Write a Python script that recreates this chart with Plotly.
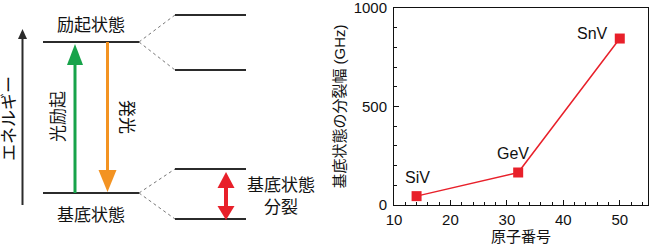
import plotly.graph_objects as go

# ---- data (right panel) ----
centers = ["SiV", "GeV", "SnV"]
atomic_number = [14, 32, 50]
splitting_ghz = [45, 165, 845]

x_ticks = [10, 20, 30, 40, 50]
y_ticks = [0, 500, 1000]

# ---- left diagram labels ----
label_excited = "励起状態"
label_ground = "基底状態"
label_energy = "エネルギー"
label_absorb = "光励起"
label_emit = "発光"
label_split = "基底状態<br>分裂"

FONT = "Liberation Sans, Arial, Noto Sans CJK JP, sans-serif"
DARK = "#2b2b2b"
RED = "#e8202a"
GREEN = "#17a34a"
ORANGE = "#f39322"

fig = go.Figure()

fig.add_trace(go.Scatter(
    x=atomic_number, y=splitting_ghz, mode="lines+markers",
    line=dict(color=RED, width=1.5),
    marker=dict(symbol="square", size=10, color=RED),
    xaxis="x", yaxis="y", showlegend=False, hoverinfo="skip"))

# dummy trace for the left diagram axes
fig.add_trace(go.Scatter(x=[0], y=[0], mode="markers", marker=dict(opacity=0),
                         xaxis="x2", yaxis="y2", showlegend=False, hoverinfo="skip"))

ann_offsets = [(1, 19), (-5, 19), (-27, 5)]
annotations = []
for name, xv, yv, (dx, dy) in zip(centers, atomic_number, splitting_ghz, ann_offsets):
    annotations.append(dict(x=xv, y=yv, xref="x", yref="y", text=name, showarrow=False,
                            xshift=dx, yshift=dy, font=dict(size=16, color="#111", family=FONT)))

# ---- left diagram (coordinates in a 0..325 x 0..245 drawing frame) ----
lvl_main_x = [43, 139]
lvl_split_x = [175, 246]
y_exc, y_gnd = 42, 193
y_exc_split = [15, 70]
y_gnd_split = [169, 219]

shapes = []
def line(x0, y0, x1, y1, color=DARK, width=2, dash="solid"):
    shapes.append(dict(type="line", xref="x2", yref="y2", x0=x0, y0=y0, x1=x1, y1=y1,
                       line=dict(color=color, width=width, dash=dash)))
def tri(pts, color):
    p = "M " + " L ".join(f"{a},{b}" for a, b in pts) + " Z"
    shapes.append(dict(type="path", xref="x2", yref="y2", path=p,
                       fillcolor=color, line=dict(color=color, width=0)))

for yy in (y_exc, y_gnd):
    line(lvl_main_x[0], yy, lvl_main_x[1], yy)
for yy in y_exc_split:
    line(lvl_split_x[0], yy, lvl_split_x[1], yy)
    line(lvl_main_x[1], y_exc, lvl_split_x[0], yy, color="#777", width=1, dash="dot")
for yy in y_gnd_split:
    line(lvl_split_x[0], yy, lvl_split_x[1], yy)
    line(lvl_main_x[1], y_gnd, lvl_split_x[0], yy, color="#777", width=1, dash="dot")

# energy axis arrow
line(22.5, 205, 22.5, 36, width=2)
tri([(18, 39), (27, 39), (22.5, 29)], DARK)
# green excitation arrow
line(75, y_gnd, 75, 62, color=GREEN, width=3)
tri([(67, 65), (83, 65), (75, 44)], GREEN)
# orange emission arrow
line(107.5, y_exc, 107.5, 172, color=ORANGE, width=3)
tri([(98.5, 170), (116.5, 170), (107.5, 192)], ORANGE)
# red double arrow
line(226, 184, 226, 210, color=RED, width=4)
tri([(217.5, 188), (234.5, 188), (226, 172)], RED)
tri([(217.5, 206), (234.5, 206), (226, 220)], RED)

def txt(x, y, t, angle=0, size=17):
    annotations.append(dict(x=x, y=y, xref="x2", yref="y2", text=t, showarrow=False,
                            textangle=angle, font=dict(size=size, color="#111", family=FONT)))

txt(91, 25, label_excited)
txt(91, 215, label_ground)
txt(9, 119, label_energy, angle=-90)
txt(58, 117, label_absorb, angle=-90)
txt(127, 117, label_emit, angle=90)
txt(281, 196, label_split)

fig.update_layout(
    template="none",
    width=650, height=245, margin=dict(l=0, r=0, t=0, b=0, pad=0),
    paper_bgcolor="white", plot_bgcolor="white",
    font=dict(family=FONT, size=15, color="#111"),
    shapes=shapes, annotations=annotations,
    xaxis=dict(domain=[394/650, 648/650], range=[10, 55], tickvals=x_ticks,
               ticks="inside", ticklen=5, tickcolor="#111", tickwidth=1,
               minor=dict(dtick=2, ticks="inside", ticklen=3, tickcolor="#111"),
               showline=True, linecolor="#111", linewidth=1, mirror=True,
               showgrid=False, zeroline=False, anchor="y", automargin=False,
               ticklabelstandoff=1, ticklabeloverflow="allow",
               tickfont=dict(size=15), title=dict(text="原子番号", font=dict(size=15), standoff=1)),
    yaxis=dict(domain=[40/245, 237/245], range=[0, 1000], tickvals=y_ticks,
               ticks="inside", ticklen=5, tickcolor="#111", tickwidth=1,
               minor=dict(dtick=100, ticks="inside", ticklen=3, tickcolor="#111"),
               showline=True, linecolor="#111", linewidth=1, mirror=True,
               showgrid=False, zeroline=False, anchor="x", automargin=False,
               ticklabelstandoff=3, ticklabeloverflow="allow",
               tickfont=dict(size=15), title=dict(text="基底状態の分裂幅 (GHz)", font=dict(size=15), standoff=4)),
    xaxis2=dict(domain=[0, 0.5], range=[0, 325], visible=False, anchor="y2",
                fixedrange=True, automargin=False),
    yaxis2=dict(domain=[0, 1], range=[245, 0], visible=False, anchor="x2",
                fixedrange=True, automargin=False),
)

fig.write_html("out.html")
